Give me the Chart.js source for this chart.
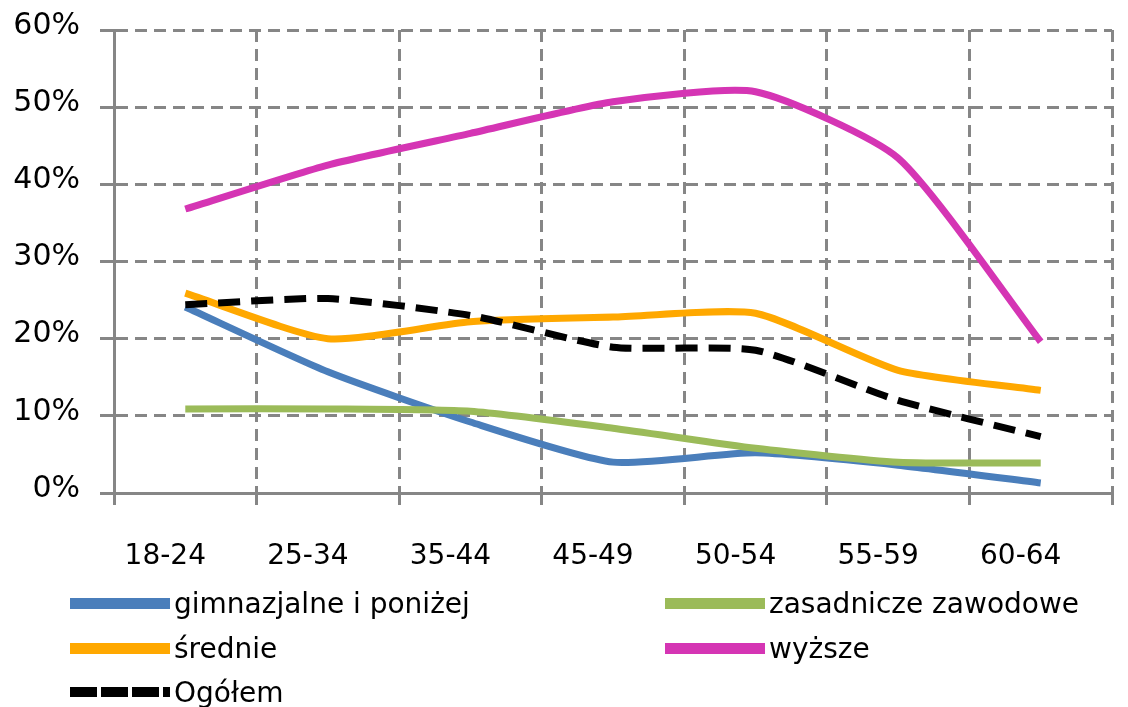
<!DOCTYPE html>
<html>
<head>
<meta charset="utf-8">
<script src="https://cdn.jsdelivr.net/npm/chart.js@4.4.1/dist/chart.umd.min.js"></script>
<style>
  html, body { margin: 0; padding: 0; background: #fff; }
  #wrap { position: relative; width: 1128px; height: 707px; }
  #legend { position: absolute; left: 0; top: 0; width: 1128px; height: 707px; pointer-events: none;
            font-family: "DejaVu Sans"; font-size: 28px; color: #000; }
  .item { position: absolute; display: flex; align-items: center; height: 40px; white-space: nowrap; }
  .swatch { width: 100px; height: 11px; margin-right: 4px; }
</style>
</head>
<body>
<div id="wrap">
  <canvas id="lineChart" width="1128" height="707"></canvas>
  <div id="legend"></div>
</div>
<script>
const ageGroups = ['18-24', '25-34', '35-44', '45-49', '50-54', '55-59', '60-64'];

const gimnazjalne = [24.1, 15.7, 9.2, 4.0, 5.2, 3.6, 1.3];
const zasadnicze = [10.9, 10.9, 10.6, 8.4, 5.8, 4.0, 3.9];
const srednie = [25.9, 20.0, 22.2, 22.8, 23.3, 15.9, 13.3];
const wyzsze = [36.8, 42.5, 46.6, 50.7, 52.0, 43.4, 19.6];
const ogolem = [24.4, 25.2, 23.0, 18.9, 18.5, 12.0, 7.3];

const yTickValues = [0, 10, 20, 30, 40, 50, 60];

const gridGray = '#868686';

function series(label, data, color, order, dash) {
    return {
        label: label,
        data: data,
        borderColor: color,
        backgroundColor: color,
        borderWidth: 7,
        borderDash: dash || [],
        pointRadius: 0,
        tension: 0.2,
        order: order
    };
}

const ctx = document.getElementById('lineChart').getContext('2d');
const lineChart = new Chart(ctx, {
    type: 'line',
    data: {
        labels: ageGroups,
        datasets: [
            series('gimnazjalne i poniżej', gimnazjalne, '#4a7ebb', 5),
            series('zasadnicze zawodowe', zasadnicze, '#9bbb59', 4),
            series('średnie', srednie, '#ffa800', 3),
            series('wyższe', wyzsze, '#d535b4', 2),
            series('Ogółem', ogolem, '#000000', 1, [22, 11])
        ]
    },
    options: {
        responsive: false,
        animation: false,
        devicePixelRatio: 1,
        layout: { padding: { top: 30, right: 16, bottom: 0, left: 0 } },
        plugins: {
            legend: { display: false },
            tooltip: { enabled: false }
        },
        scales: {
            x: {
                offset: true,
                grid: {
                    offset: true,
                    color: gridGray,
                    lineWidth: 3,
                    tickLength: 12,
                    tickColor: gridGray,
                    tickWidth: 3,
                    tickBorderDash: []
                },
                border: { display: true, color: gridGray, width: 3, dash: [12, 7] },
                ticks: {
                    color: '#000',
                    font: { family: 'DejaVu Sans', size: 28 },
                    padding: 35,
                    labelOffset: -20,
                    maxRotation: 0
                },
                afterFit: (s) => { s.height = 214; s.paddingLeft = 0; s.paddingRight = 0; }
            },
            y: {
                min: yTickValues[0],
                max: yTickValues[yTickValues.length - 1],
                afterBuildTicks: (s) => { s.ticks = yTickValues.map(v => ({ value: v })); },
                grid: {
                    color: gridGray,
                    lineWidth: 3,
                    tickLength: 14,
                    tickColor: gridGray,
                    tickWidth: 3,
                    tickBorderDash: []
                },
                border: { display: true, color: gridGray, width: 3, dash: [12, 7] },
                ticks: {
                    color: '#000',
                    font: { family: 'DejaVu Sans', size: 30 },
                    padding: 20,
                    labelOffset: -4,
                    callback: (v) => v + '%'
                },
                afterFit: (s) => { s.width = 114; s.paddingTop = 0; s.paddingBottom = 0; }
            }
        }
    }
});

// legend in two columns, like the original
const legendBox = document.getElementById('legend');
const colLeft = [70, 665];
const rowMid = [603, 648, 692];
lineChart.data.datasets.forEach((ds, i) => {
    const item = document.createElement('div');
    item.className = 'item';
    item.style.left = colLeft[i % 2] + 'px';
    item.style.top = (rowMid[Math.floor(i / 2)] - 20) + 'px';
    const sw = document.createElement('div');
    sw.className = 'swatch';
    if (ds.borderDash.length) {
        sw.style.height = '10px';
        sw.style.background = 'repeating-linear-gradient(to right, ' + ds.borderColor + ' 0 27px, transparent 27px 31px)';
    } else {
        sw.style.background = ds.borderColor;
    }
    const txt = document.createElement('span');
    txt.textContent = ds.label;
    item.appendChild(sw);
    item.appendChild(txt);
    legendBox.appendChild(item);
});
</script>
</body>
</html>
